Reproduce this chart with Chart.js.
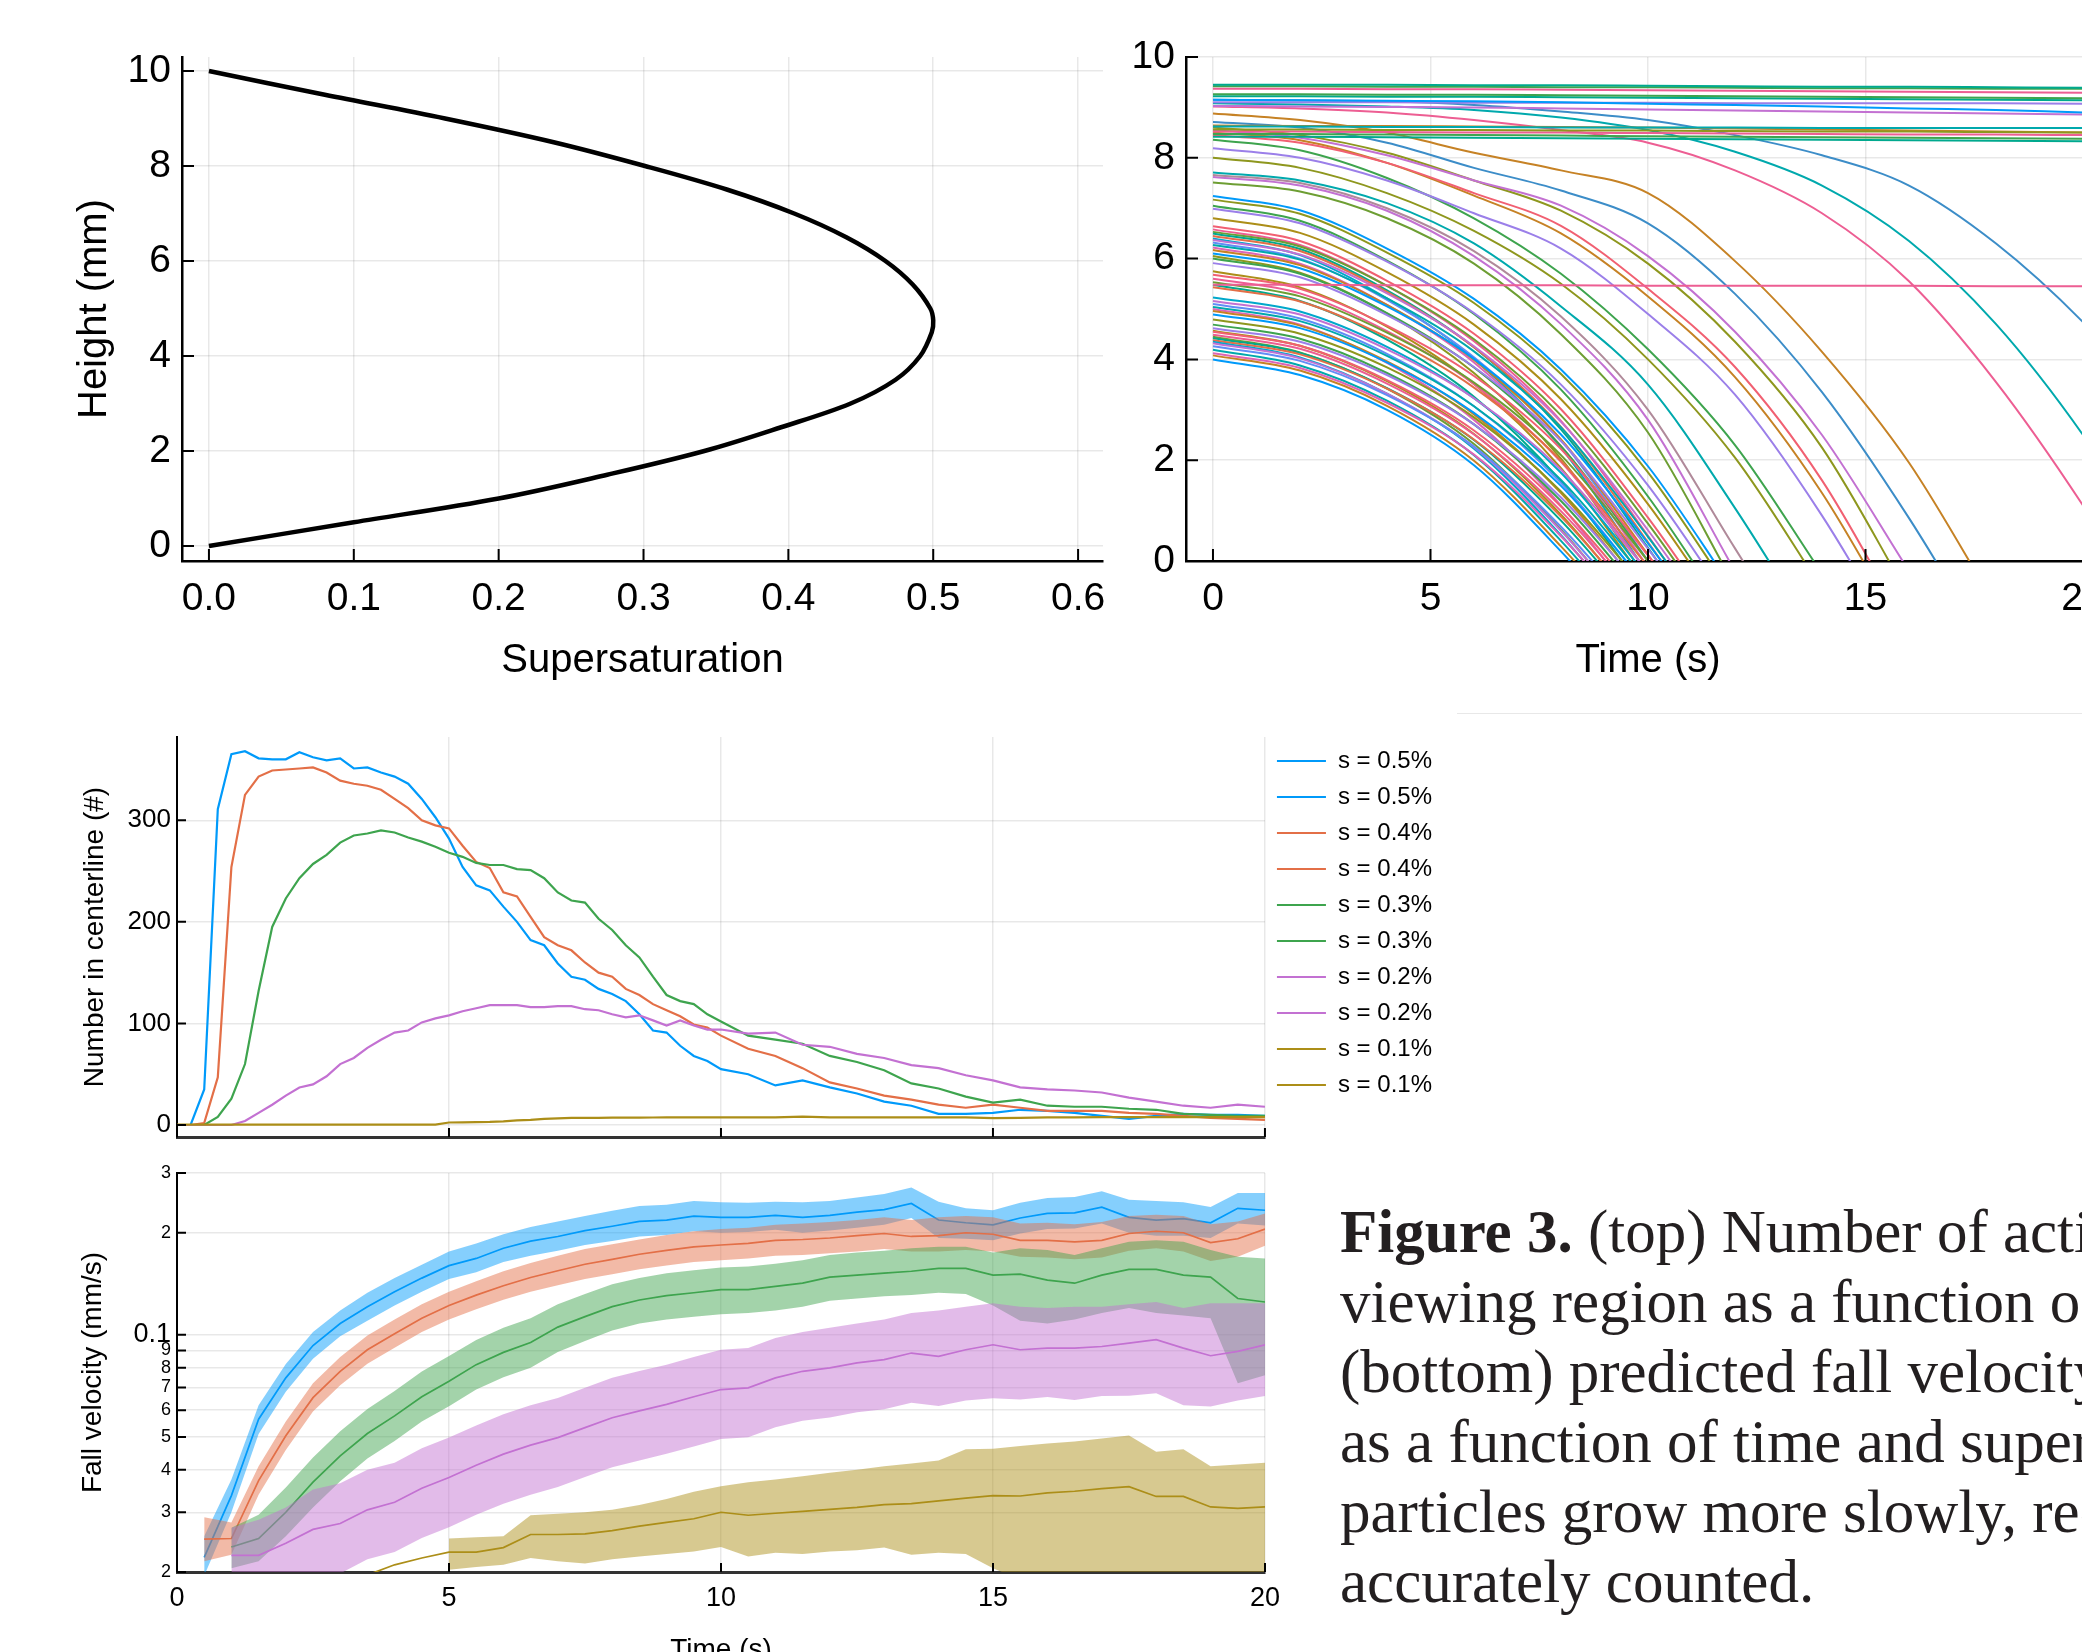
<!DOCTYPE html>
<html>
<head>
<meta charset="utf-8">
<script src="https://cdn.jsdelivr.net/npm/chart.js@4.4.1/dist/chart.umd.min.js"></script>
<style>
  html, body { margin: 0; padding: 0; width: 2082px; height: 1652px; overflow: hidden; background: #fff; }
  canvas { position: absolute; }
  #caption { position: absolute; left: 1340px; top: 1197px; font-family: "Liberation Serif", serif; font-size: 61px; line-height: 70px; color: #231f20; white-space: nowrap; }
  #rule { position: absolute; left: 1457px; top: 713px; width: 625px; height: 1px; background: #e8e8e8; }
</style>
</head>
<body>
<canvas id="satChart" width="1110" height="700" style="left:0;top:0"></canvas>
<canvas id="fallChart" width="1000" height="700" style="left:1110px;top:0"></canvas>
<canvas id="countChart" width="1442" height="440" style="left:0;top:700px"></canvas>
<canvas id="velChart" width="1280" height="540" style="left:0;top:1140px"></canvas>
<div id="rule"></div>
<div id="caption"><b>Figure 3.</b> (top) Number of activated particles in the<br>viewing region as a function of time.<br>(bottom) predicted fall velocity of particles<br>as a function of time and supersaturation. Low<br>particles grow more slowly, reducing the rate<br>accurately counted.</div>

<script>
// ---- supersaturation profile (top left)
var satHeight = [0, 0.5, 1, 1.5, 2, 2.5, 3, 3.5, 4, 4.5, 4.75, 5, 5.5, 6, 6.5, 7, 7.5, 8, 8.5, 9, 9.5, 10];
var satValue = [0, 0.10, 0.20, 0.275, 0.342, 0.395, 0.443, 0.474, 0.491, 0.499, 0.500, 0.498, 0.486, 0.467, 0.440, 0.404, 0.358, 0.301, 0.238, 0.163, 0.08, 0];
var satTicks = [0, 0.1, 0.2, 0.3, 0.4, 0.5, 0.6];
var heightTicks = [0, 2, 4, 6, 8, 10];

// ---- particle trajectories (top right), heights at trajTime
var trajTime = [0, 2, 4, 6, 8, 10, 12, 14, 16, 18, 20, 22];
var flatTraj = [
  [9.45, 9.45, 9.45, 9.44, 9.44, 9.43, 9.42, 9.41, 9.41, 9.40, 9.39, 9.39],
  [9.42, 9.42, 9.41, 9.41, 9.40, 9.40, 9.39, 9.38, 9.38, 9.37, 9.37, 9.36],
  [9.37, 9.37, 9.36, 9.36, 9.35, 9.34, 9.33, 9.32, 9.31, 9.30, 9.29, 9.28],
  [9.26, 9.26, 9.25, 9.25, 9.24, 9.23, 9.22, 9.21, 9.20, 9.19, 9.18, 9.17],
  [9.22, 9.22, 9.21, 9.21, 9.20, 9.19, 9.18, 9.17, 9.16, 9.15, 9.14, 9.13],
  [9.15, 9.14, 9.13, 9.12, 9.10, 9.07, 9.05, 9.02, 8.98, 8.95, 8.90, 8.86],
  [9.10, 9.10, 9.10, 9.09, 9.09, 9.09, 9.08, 9.08, 9.08, 9.08, 9.07, 9.07],
  [9.03, 9.02, 9.01, 9.00, 8.98, 8.96, 8.94, 8.92, 8.90, 8.88, 8.86, 8.84],
  [8.62, 8.62, 8.61, 8.61, 8.60, 8.60, 8.60, 8.59, 8.59, 8.59, 8.59, 8.58],
  [8.56, 8.56, 8.55, 8.55, 8.54, 8.54, 8.53, 8.52, 8.52, 8.51, 8.50, 8.50],
  [8.52, 8.52, 8.51, 8.50, 8.50, 8.49, 8.48, 8.47, 8.46, 8.46, 8.45, 8.44],
  [8.47, 8.47, 8.46, 8.45, 8.44, 8.43, 8.42, 8.41, 8.40, 8.39, 8.38, 8.37],
  [8.42, 8.42, 8.41, 8.40, 8.39, 8.38, 8.37, 8.36, 8.35, 8.34, 8.33, 8.32],
  [8.64, 8.63, 8.63, 8.62, 8.61, 8.60, 8.58, 8.56, 8.54, 8.52, 8.50, 8.48],
  [5.48, 5.48, 5.47, 5.47, 5.47, 5.46, 5.46, 5.46, 5.46, 5.45, 5.45, 5.45]
];
var slowTraj = [
  [9.15, 9.14, 9.12, 9.05, 8.92, 8.75, 8.45, 8.05, 7.45, 6.30, 4.74, 2.80],
  [9.08, 9.06, 9.02, 8.95, 8.80, 8.55, 8.12, 7.45, 6.35, 4.70, 2.50, -0.2],
  [9.02, 8.98, 8.90, 8.75, 8.55, 8.30, 7.75, 6.90, 5.55, 3.55, 1.10, -1.7],
  [8.88, 8.75, 8.50, 8.10, 7.75, 7.30, 5.95, 4.15, 1.95, -0.9],
  [8.71, 8.60, 8.30, 7.80, 7.35, 6.70, 5.30, 3.35, 0.85, -2.0],
  [8.55, 8.40, 8.05, 7.55, 7.05, 6.05, 4.55, 2.50, -0.2],
  [8.60, 8.45, 8.10, 7.55, 6.95, 5.90, 4.35, 2.25, -0.7],
  [8.45, 8.30, 7.90, 7.30, 6.65, 5.40, 3.85, 1.60, -1.4],
  [8.50, 8.35, 7.90, 7.25, 6.50, 5.25, 3.65, 1.35, -1.6],
  [8.19, 8.00, 7.55, 6.90, 6.20, 4.90, 3.30, 0.90, -2.0],
  [8.36, 8.15, 7.60, 6.80, 5.70, 4.20, 2.30, -0.25],
  [8.00, 7.80, 7.30, 6.55, 5.50, 4.00, 2.05, -0.55],
  [7.71, 7.55, 7.10, 6.30, 5.05, 3.50, 1.05, -1.7],
  [7.66, 7.50, 7.00, 6.15, 4.85, 3.00, 0.25, -2.5],
  [7.62, 7.45, 6.95, 6.05, 4.70, 2.80, -0.2],
  [7.51, 7.33, 6.80, 5.90, 4.50, 2.55, -0.5]
];
var bundleTraj = [
  [4.00, 3.69, 3.00, 1.90, 0.19, -1.76],
  [4.08, 3.78, 3.08, 1.99, 0.29, -1.67],
  [4.12, 3.83, 3.14, 2.11, 0.49, -1.45],
  [4.19, 3.88, 3.18, 2.10, 0.40, -1.60],
  [4.26, 3.97, 3.29, 2.27, 0.68, -1.28],
  [4.32, 4.02, 3.32, 2.26, 0.60, -1.41],
  [4.35, 4.04, 3.32, 2.23, 0.51, -1.53],
  [4.38, 4.10, 3.42, 2.41, 0.88, -1.09],
  [4.42, 4.13, 3.43, 2.40, 0.80, -1.19],
  [4.45, 4.14, 3.42, 2.32, 0.62, -1.45],
  [4.49, 4.21, 3.52, 2.51, 0.99, -0.99],
  [4.55, 4.27, 3.59, 2.59, 1.08, -0.90],
  [4.57, 4.27, 3.57, 2.52, 0.92, -1.13],
  [4.62, 4.35, 3.69, 2.71, 1.26, -0.69],
  [4.69, 4.41, 3.73, 2.71, 1.19, -0.82],
  [4.79, 4.51, 3.84, 2.85, 1.38, -0.61],
  [4.89, 4.62, 3.94, 2.94, 1.49, -0.52],
  [4.96, 4.67, 3.96, 2.91, 1.35, -0.74],
  [5.00, 4.69, 3.93, 2.80, 1.10, -1.11],
  [5.04, 4.76, 4.07, 3.07, 1.61, -0.42],
  [5.10, 4.81, 4.11, 3.07, 1.55, -0.54],
  [5.16, 4.89, 4.20, 3.23, 1.81, -0.21],
  [5.23, 4.95, 4.25, 3.23, 1.75, -0.32],
  [5.43, 5.15, 4.44, 3.44, 1.99, -0.11],
  [5.48, 5.16, 4.39, 3.26, 1.58, -0.70],
  [5.53, 5.25, 4.53, 3.54, 2.10, 0.00, -2.21],
  [5.60, 5.31, 4.56, 3.51, 1.97, -0.22],
  [5.68, 5.40, 4.67, 3.67, 2.22, 0.11, -2.14],
  [5.75, 5.43, 4.65, 3.51, 1.84, -0.48],
  [5.91, 5.63, 4.88, 3.85, 2.38, 0.24, -2.07],
  [6.00, 5.70, 4.92, 3.84, 2.28, 0.00, -2.40],
  [6.05, 5.72, 4.91, 3.73, 2.03, -0.38],
  [6.10, 5.81, 5.05, 4.01, 2.51, 0.35, -2.01],
  [6.17, 5.87, 5.08, 3.99, 2.41, 0.12, -2.32],
  [6.22, 5.90, 5.08, 3.94, 2.28, -0.12],
  [6.27, 5.98, 5.21, 4.16, 2.65, 0.48, -1.93],
  [6.32, 6.00, 5.18, 4.04, 2.40, 0.00, -2.53],
  [6.37, 6.08, 5.31, 4.26, 2.76, 0.61, -1.82],
  [6.40, 6.07, 5.21, 4.01, 2.25, -0.26],
  [6.45, 6.15, 5.34, 4.24, 2.66, 0.37, -2.13],
  [6.50, 6.19, 5.37, 4.24, 2.61, 0.26, -2.28],
  [6.53, 6.24, 5.46, 4.40, 2.89, 0.74, -1.72],
  [6.58, 6.27, 5.46, 4.36, 2.78, 0.50, -2.03],
  [6.64, 6.35, 5.56, 4.51, 3.01, 0.86, -1.61],
  [6.80, 6.51, 5.73, 4.69, 3.21, 1.13, -1.37],
  [6.99, 6.70, 5.94, 4.92, 3.50, 1.50, -0.99],
  [7.05, 6.75, 5.96, 4.90, 3.40, 1.28, -1.28],
  [7.17, 6.89, 6.12, 5.12, 3.71, 1.76, -0.76],
  [7.24, 6.96, 6.20, 5.20, 3.80, 1.88, -0.62]
];
var trajXTicks = [0, 5, 10, 15, 20];

// ---- number in centerline (bottom, upper panel)
var countTime = [0, 0.25, 0.5, 0.75, 1, 1.25, 1.5, 1.75, 2, 2.25, 2.5, 2.75, 3, 3.25, 3.5, 3.75, 4, 4.25, 4.5, 4.75,
  5, 5.25, 5.5, 5.75, 6, 6.25, 6.5, 6.75, 7, 7.25, 7.5, 7.75, 8, 8.25, 8.5, 8.75, 9, 9.25, 9.5, 9.75, 10,
  10.5, 11, 11.5, 12, 12.5, 13, 13.5, 14, 14.5, 15, 15.5, 16, 16.5, 17, 17.5, 18, 18.5, 19, 19.5, 20];
var count05 = [0, 0, 35, 311, 365, 368, 361, 360, 360, 367, 362, 359, 361, 351, 352, 347, 343, 336, 321, 303,
  282, 254, 236, 231, 215, 200, 182, 177, 159, 146, 143, 134, 129, 122, 109, 93, 91, 78, 68, 63, 55,
  50, 39, 44, 37, 31, 23, 19, 11, 11, 12, 15, 14, 12, 9, 6, 9, 11, 10, 10, 9];
var count04 = [0, 0, 2, 47, 254, 325, 343, 349, 350, 351, 352, 347, 339, 336, 334, 330, 321, 312, 300, 295,
  292, 275, 259, 253, 229, 225, 205, 185, 177, 172, 160, 150, 146, 134, 128, 119, 113, 107, 99, 96, 88,
  75, 68, 56, 42, 36, 29, 25, 20, 17, 20, 17, 14, 14, 14, 12, 11, 9, 7, 6, 5];
var count03 = [0, 0, 0, 8, 26, 60, 132, 195, 223, 243, 257, 266, 278, 285, 287, 290, 288, 283, 279, 274,
  268, 264, 258, 256, 256, 252, 251, 243, 229, 221, 219, 203, 192, 177, 165, 146, 128, 122, 119, 109, 102,
  88, 84, 80, 68, 62, 54, 41, 36, 28, 22, 25, 19, 18, 18, 16, 15, 11, 10, 9, 9];
var count02 = [0, 0, 0, 0, 0, 4, 12, 20, 29, 37, 40, 48, 60, 66, 76, 84, 91, 93, 101, 105,
  108, 112, 115, 118, 118, 118, 116, 116, 117, 117, 114, 113, 109, 106, 108, 103, 98, 103, 98, 94, 94,
  90, 91, 79, 77, 70, 66, 59, 56, 49, 44, 37, 35, 34, 32, 27, 23, 19, 17, 20, 18];
var count01 = [0.3, 0.3, 0.3, 0.3, 0.3, 0.3, 0.3, 0.3, 0.3, 0.3, 0.3, 0.3, 0.3, 0.3, 0.3, 0.3, 0.3, 0.3, 0.3, 0.3,
  2.5, 2.6, 2.8, 3, 3.5, 4.5, 5, 6, 6.5, 7, 7, 7, 7.2, 7.3, 7.3, 7.4, 7.5, 7.5, 7.5, 7.5, 7.6,
  7.6, 7.6, 8.2, 7.6, 7.6, 7.6, 7.6, 7.6, 7.6, 6.8, 7.0, 7.6, 7.6, 7.7, 7.7, 7.7, 7.7, 7.7, 7.7, 7.7];
var countYTicks = [0, 100, 200, 300];
var countLegend = ['s = 0.5%', 's = 0.5%', 's = 0.4%', 's = 0.4%', 's = 0.3%', 's = 0.3%', 's = 0.2%', 's = 0.2%', 's = 0.1%', 's = 0.1%'];

// ---- fall velocity in mm/s (bottom, lower panel): mean line and band edges
var velTime = [0, 0.5, 1, 1.5, 2, 2.5, 3, 3.5, 4, 4.5, 5, 5.5, 6, 6.5, 7, 7.5, 8, 8.5, 9, 9.5, 10,
  10.5, 11, 11.5, 12, 12.5, 13, 13.5, 14, 14.5, 15, 15.5, 16, 16.5, 17, 17.5, 18, 18.5, 19, 19.5, 20];
var vel05 = [null, 0.0221, 0.0336, 0.0564, 0.0747, 0.093, 0.108, 0.121, 0.134, 0.147, 0.160, 0.168, 0.180, 0.189, 0.195, 0.203, 0.209, 0.216, 0.218, 0.224, 0.222,
  0.222, 0.225, 0.222, 0.225, 0.230, 0.234, 0.244, 0.218, 0.214, 0.211, 0.221, 0.228, 0.229, 0.238, 0.222, 0.218, 0.220, 0.214, 0.236, 0.233];
var vel05Hi = [null, 0.0255, 0.0375, 0.062, 0.082, 0.102, 0.118, 0.133, 0.147, 0.161, 0.176, 0.186, 0.198, 0.208, 0.216, 0.224, 0.232, 0.240, 0.242, 0.248, 0.246,
  0.245, 0.247, 0.246, 0.248, 0.254, 0.260, 0.272, 0.247, 0.236, 0.233, 0.245, 0.253, 0.255, 0.265, 0.250, 0.248, 0.246, 0.238, 0.262, 0.262];
var vel05Lo = [null, 0.0195, 0.030, 0.051, 0.068, 0.085, 0.099, 0.110, 0.122, 0.134, 0.146, 0.153, 0.164, 0.171, 0.177, 0.184, 0.189, 0.195, 0.197, 0.202, 0.200,
  0.201, 0.204, 0.200, 0.203, 0.207, 0.211, 0.221, 0.193, 0.192, 0.190, 0.199, 0.205, 0.206, 0.213, 0.200, 0.196, 0.196, 0.193, 0.213, 0.210];
var vel04 = [null, 0.025, 0.0251, 0.0372, 0.0504, 0.0653, 0.0781, 0.0904, 0.1008, 0.112, 0.122, 0.131, 0.1396, 0.1476, 0.1545, 0.1615, 0.167, 0.1728, 0.1775, 0.1816, 0.184,
  0.186, 0.190, 0.191, 0.193, 0.196, 0.199, 0.195, 0.196, 0.200, 0.198, 0.190, 0.190, 0.188, 0.190, 0.199, 0.202, 0.200, 0.187, 0.192, 0.205];
var vel04Hi = [null, 0.029, 0.028, 0.041, 0.0555, 0.072, 0.086, 0.0995, 0.111, 0.123, 0.134, 0.144, 0.154, 0.163, 0.171, 0.179, 0.185, 0.191, 0.197, 0.202, 0.205,
  0.207, 0.211, 0.213, 0.215, 0.218, 0.222, 0.218, 0.222, 0.224, 0.222, 0.213, 0.214, 0.212, 0.215, 0.224, 0.226, 0.224, 0.212, 0.216, 0.228];
var vel04Lo = [null, 0.0215, 0.0225, 0.0338, 0.0458, 0.0594, 0.071, 0.0822, 0.0916, 0.102, 0.111, 0.119, 0.127, 0.134, 0.140, 0.146, 0.151, 0.156, 0.160, 0.164, 0.166,
  0.168, 0.171, 0.172, 0.174, 0.176, 0.179, 0.176, 0.176, 0.178, 0.176, 0.170, 0.169, 0.167, 0.169, 0.177, 0.180, 0.176, 0.165, 0.170, 0.183];
var vel03 = [null, null, 0.0237, 0.0251, 0.030, 0.0368, 0.044, 0.0512, 0.0577, 0.0657, 0.073, 0.0817, 0.0888, 0.095, 0.1054, 0.1132, 0.1211, 0.1267, 0.1305, 0.1331, 0.136,
  0.136, 0.139, 0.142, 0.148, 0.150, 0.152, 0.154, 0.157, 0.157, 0.150, 0.151, 0.145, 0.142, 0.150, 0.156, 0.156, 0.150, 0.148, 0.128, 0.125];
var vel03Hi = [null, null, 0.027, 0.0295, 0.0355, 0.0435, 0.052, 0.0605, 0.0683, 0.078, 0.0866, 0.0965, 0.105, 0.112, 0.123, 0.132, 0.141, 0.147, 0.152, 0.155, 0.158,
  0.159, 0.162, 0.166, 0.172, 0.175, 0.177, 0.180, 0.182, 0.182, 0.175, 0.180, 0.178, 0.172, 0.180, 0.188, 0.190, 0.188, 0.178, 0.170, 0.168];
var vel03Lo = [null, null, 0.0205, 0.0215, 0.0255, 0.031, 0.037, 0.0432, 0.0487, 0.0555, 0.0616, 0.069, 0.075, 0.080, 0.089, 0.096, 0.103, 0.108, 0.111, 0.113, 0.115,
  0.116, 0.118, 0.121, 0.126, 0.128, 0.130, 0.131, 0.133, 0.132, 0.122, 0.110, 0.108, 0.111, 0.116, 0.120, 0.116, 0.114, 0.112, 0.072, 0.076];
var vel02 = [null, null, 0.0224, 0.0224, 0.0243, 0.0267, 0.0278, 0.0305, 0.0321, 0.0353, 0.038, 0.0413, 0.0445, 0.0473, 0.0498, 0.0533, 0.057, 0.0597, 0.0624, 0.0657, 0.069,
  0.0698, 0.0747, 0.0781, 0.0799, 0.0827, 0.0845, 0.0884, 0.0864, 0.0904, 0.0935, 0.0904, 0.0914, 0.0914, 0.0924, 0.0945, 0.0968, 0.0914, 0.0868, 0.0894, 0.0935];
var vel02Hi = [null, null, 0.027, 0.0285, 0.031, 0.035, 0.0365, 0.040, 0.042, 0.0463, 0.0498, 0.0541, 0.0583, 0.062, 0.0652, 0.0698, 0.0747, 0.0782, 0.0817, 0.0861, 0.0904,
  0.0915, 0.0979, 0.102, 0.105, 0.108, 0.111, 0.116, 0.118, 0.121, 0.124, 0.121, 0.120, 0.121, 0.121, 0.123, 0.125, 0.120, 0.124, 0.124, 0.124];
var vel02Lo = [null, null, 0.0185, 0.018, 0.018, 0.019, 0.0198, 0.0218, 0.0229, 0.0252, 0.0271, 0.0295, 0.0318, 0.0338, 0.0356, 0.0381, 0.0407, 0.0426, 0.0446, 0.0469, 0.0493,
  0.0499, 0.0534, 0.0558, 0.0571, 0.0591, 0.0604, 0.0631, 0.0617, 0.064, 0.065, 0.0645, 0.0656, 0.0643, 0.066, 0.0661, 0.0673, 0.062, 0.0615, 0.064, 0.066];
var vel01 = [null, null, null, null, null, null, null, 0.0196, 0.0210, 0.0220, 0.0229, 0.0229, 0.0236, 0.0258, 0.0258, 0.0259, 0.0265, 0.0273, 0.028, 0.0287, 0.030,
  0.0294, 0.0298, 0.0302, 0.0306, 0.031, 0.0316, 0.0318, 0.0324, 0.033, 0.0336, 0.0335, 0.0342, 0.0346, 0.0352, 0.0357, 0.0334, 0.0334, 0.0311, 0.0308, 0.0311];
var vel01Hi = [null, null, null, null, null, null, null, null, null, null, 0.0251, 0.0253, 0.0255, 0.0294, 0.0297, 0.030, 0.0305, 0.0315, 0.0328, 0.0345, 0.0358,
  0.0368, 0.0375, 0.0383, 0.0392, 0.040, 0.041, 0.0418, 0.0426, 0.046, 0.0462, 0.047, 0.0478, 0.0485, 0.0495, 0.0505, 0.0452, 0.046, 0.041, 0.0415, 0.042];
var vel01Lo = [null, null, null, null, null, null, null, null, null, null, 0.0203, 0.0207, 0.021, 0.022, 0.0215, 0.0212, 0.0218, 0.0222, 0.0226, 0.023, 0.0237,
  0.0222, 0.0228, 0.0226, 0.023, 0.0232, 0.0236, 0.0225, 0.0228, 0.0226, 0.0205, 0.019, 0.019, 0.019, 0.019, 0.019, 0.019, 0.019, 0.019, 0.019, 0.019];
var velYTicks = [0.02, 0.03, 0.04, 0.05, 0.06, 0.07, 0.08, 0.09, 0.1, 0.2, 0.3];
var velYLabels = ['2', '3', '4', '5', '6', '7', '8', '9', '0.1', '2', '3'];

// ---- styling
var palette = ['#009AFA', '#E36F47', '#3EA44E', '#C371D2', '#AC8E18', '#00A9AD', '#ED5E93', '#C68225',
  '#00A98E', '#8E971E', '#00A8CB', '#9B7FE9', '#618DF6', '#F16072', '#DC65B7', '#6D9E33'];
var flatColors = ['#00A98E', '#3EA44E', '#ED5E93', '#3EA44E', '#00A98E', '#009AFA', '#9B7FE9', '#C371D2',
  '#00A9AD', '#8E971E', '#ED5E93', '#3EA44E', '#00A98E', '#C68225', '#ED5E93'];
var slowColors = ['#3C8DC8', '#00A9AD', '#ED5E93', '#C68225', '#3C8DC8', '#C371D2', '#8E971E', '#F16072',
  '#C68225', '#9B7FE9', '#3EA44E', '#8E971E', '#00A9AD', '#B08A9A', '#C371D2', '#6D9E33'];
var seriesColors = ['#009AFA', '#E36F47', '#3EA44E', '#C371D2', '#AC8E18'];
var FONT = 'Liberation Sans';
var GRID = 'rgba(0,0,0,0.09)';

Chart.defaults.font.family = FONT;
Chart.defaults.color = '#000';

function alpha(hex, a) {
  var n = parseInt(hex.slice(1), 16);
  return 'rgba(' + (n >> 16) + ',' + ((n >> 8) & 255) + ',' + (n & 255) + ',' + a + ')';
}

// fixes the axis box size so the plot area lands where the figure has it
function fixSize(size) {
  return function (scale) {
    if (scale.isHorizontal()) scale.height = size; else scale.width = size;
    scale.paddingTop = 0; scale.paddingBottom = 0; scale.paddingLeft = 0; scale.paddingRight = 0;
  };
}
function useTicks(list) {
  return function (scale) { scale.ticks = list.map(function (v) { return { value: v }; }); };
}
function points(xs, ys) {
  var out = [];
  for (var i = 0; i < ys.length; i++) if (ys[i] !== null) out.push({ x: xs[i], y: ys[i] });
  return out;
}

// tick marks drawn on the inside of the plot frame
var innerTicks = {
  id: 'innerTicks',
  afterDraw: function (chart, args, opts) {
    var ctx = chart.ctx, a = chart.chartArea, len = opts.length || 12;
    var xs = chart.scales.x, ys = chart.scales.y;
    ctx.save();
    ctx.strokeStyle = '#000';
    ctx.lineWidth = opts.width || 2;
    ctx.beginPath();
    xs.ticks.forEach(function (t) {
      var p = xs.getPixelForValue(t.value);
      ctx.moveTo(p, a.bottom); ctx.lineTo(p, a.bottom - len);
    });
    ys.ticks.forEach(function (t) {
      var p = ys.getPixelForValue(t.value);
      ctx.moveTo(a.left, p); ctx.lineTo(a.left + len, p);
    });
    ctx.stroke();
    ctx.restore();
  }
};

var noPlugins = { legend: { display: false }, tooltip: { enabled: false } };

// ---- top left: supersaturation vs height
new Chart(document.getElementById('satChart'), {
  type: 'line',
  data: {
    datasets: [{
      data: points(satValue, satHeight),
      borderColor: '#000', borderWidth: 4.5, pointRadius: 0, tension: 0.35, fill: false
    }]
  },
  options: {
    responsive: false, animation: false, devicePixelRatio: 1,
    layout: { padding: { top: 57, right: 7, left: 0, bottom: 0 } },
    plugins: Object.assign({ innerTicks: { length: 12, width: 2 } }, noPlugins),
    scales: {
      x: {
        type: 'linear', min: -0.0186, max: 0.6172,
        afterBuildTicks: useTicks(satTicks), afterFit: fixSize(139),
        grid: { color: GRID, lineWidth: 1.5, drawTicks: false },
        border: { color: '#000', width: 2.5 },
        ticks: { padding: 15, font: { size: 39 }, maxRotation: 0, autoSkip: false, callback: function (v) { return v.toFixed(1); } },
        title: { display: true, text: 'Supersaturation', font: { size: 40 }, padding: { top: 0, bottom: 15 } }
      },
      y: {
        type: 'linear', min: -0.316, max: 10.295,
        afterBuildTicks: useTicks(heightTicks), afterFit: fixSize(182),
        grid: { color: GRID, lineWidth: 1.5, drawTicks: false },
        border: { color: '#000', width: 2.5 },
        ticks: { padding: 11, font: { size: 39 }, autoSkip: false },
        title: { display: true, text: 'Height (mm)', font: { size: 40 }, padding: { top: 71, bottom: 0 } }
      }
    }
  },
  plugins: [innerTicks]
});

// ---- top right: particle heights over time
var trajSets = [];
flatTraj.forEach(function (h, i) { trajSets.push({ h: h, c: flatColors[i] }); });
slowTraj.forEach(function (h, i) { trajSets.push({ h: h, c: slowColors[i] }); });
bundleTraj.forEach(function (h, i) { trajSets.push({ h: h, c: palette[(i * 7) % palette.length] }); });
new Chart(document.getElementById('fallChart'), {
  type: 'line',
  data: {
    datasets: trajSets.map(function (t) {
      return {
        data: points(trajTime, t.h),
        borderColor: t.c, borderWidth: 2, pointRadius: 0,
        cubicInterpolationMode: 'monotone', fill: false
      };
    })
  },
  options: {
    responsive: false, animation: false, devicePixelRatio: 1,
    layout: { padding: { top: 57, right: 0, left: 0, bottom: 0 } },
    plugins: Object.assign({ innerTicks: { length: 12, width: 2 } }, noPlugins),
    scales: {
      x: {
        type: 'linear', min: -0.62, max: 20.62,
        afterBuildTicks: useTicks(trajXTicks), afterFit: fixSize(139),
        grid: { color: GRID, lineWidth: 1.5, drawTicks: false },
        border: { color: '#000', width: 2.5 },
        ticks: { padding: 15, font: { size: 39 }, maxRotation: 0, autoSkip: false },
        title: { display: true, text: 'Time (s)', font: { size: 40 }, padding: { top: 0, bottom: 15 } }
      },
      y: {
        type: 'linear', min: 0, max: 10,
        afterBuildTicks: useTicks(heightTicks), afterFit: fixSize(76),
        grid: { color: GRID, lineWidth: 1.5, drawTicks: false },
        border: { color: '#000', width: 2.5 },
        ticks: { padding: 11, font: { size: 39 }, autoSkip: false }
      }
    }
  },
  plugins: [innerTicks]
});

// ---- bottom upper: number in centerline
var countSeries = [count05, count04, count03, count02, count01];
new Chart(document.getElementById('countChart'), {
  type: 'line',
  data: {
    datasets: countSeries.map(function (s, i) {
      return {
        data: points(countTime, s), borderColor: seriesColors[i], borderWidth: 2.2,
        pointRadius: 0, fill: false, order: 50 - i * 10
      };
    })
  },
  options: {
    responsive: false, animation: false, devicePixelRatio: 1,
    layout: { padding: { top: 37, right: 0, left: 0, bottom: 0 } },
    plugins: {
      tooltip: { enabled: false },
      innerTicks: { length: 9, width: 2 },
      legend: {
        display: true, position: 'right', align: 'start',
        labels: {
          usePointStyle: true, pointStyle: 'line', pointStyleWidth: 49, padding: 12,
          color: '#000', font: { size: 24 },
          generateLabels: function () {
            return countLegend.map(function (text, i) {
              var c = seriesColors[Math.floor(i / 2)];
              return { text: text, strokeStyle: c, fillStyle: c, lineWidth: 2, pointStyle: 'line', hidden: false, fontColor: '#000' };
            });
          }
        }
      }
    },
    scales: {
      x: {
        type: 'linear', min: 0, max: 20,
        afterBuildTicks: useTicks(trajXTicks), afterFit: fixSize(3),
        grid: { color: GRID, lineWidth: 1.5, drawTicks: false },
        border: { color: '#333', width: 3 },
        ticks: { display: false }
      },
      y: {
        type: 'linear', min: -11.8, max: 382,
        afterBuildTicks: useTicks(countYTicks), afterFit: fixSize(177),
        grid: { color: GRID, lineWidth: 1.5, drawTicks: false },
        border: { color: '#000', width: 2 },
        ticks: { padding: 6, font: { size: 26 }, autoSkip: false },
        title: { display: true, text: 'Number in centerline (#)', font: { size: 28 }, padding: { top: 78, bottom: 0 } }
      }
    }
  },
  plugins: [innerTicks]
});

// ---- bottom lower: fall velocity with spread bands
var velSets = [[vel05, vel05Hi, vel05Lo], [vel04, vel04Hi, vel04Lo], [vel03, vel03Hi, vel03Lo], [vel02, vel02Hi, vel02Lo], [vel01, vel01Hi, vel01Lo]];
var velDatasets = [];
velSets.forEach(function (set, i) {
  var c = seriesColors[i], ord = 50 - i * 10;
  velDatasets.push({ data: points(velTime, set[0]), borderColor: c, borderWidth: 1.7, pointRadius: 0, fill: false, order: ord });
  velDatasets.push({ data: points(velTime, set[1]), borderWidth: 0, borderColor: 'rgba(0,0,0,0)', backgroundColor: alpha(c, 0.48), pointRadius: 0, fill: '+1', order: ord });
  velDatasets.push({ data: points(velTime, set[2]), borderWidth: 0, borderColor: 'rgba(0,0,0,0)', pointRadius: 0, fill: false, order: ord });
});
new Chart(document.getElementById('velChart'), {
  type: 'line',
  data: { datasets: velDatasets },
  options: {
    responsive: false, animation: false, devicePixelRatio: 1,
    layout: { padding: { top: 33, right: 15, left: 0, bottom: 0 } },
    plugins: Object.assign({ innerTicks: { length: 9, width: 2 } }, noPlugins),
    scales: {
      x: {
        type: 'linear', min: 0, max: 20,
        afterBuildTicks: useTicks(trajXTicks), afterFit: fixSize(108),
        grid: { color: GRID, lineWidth: 1.5, drawTicks: false },
        border: { color: '#333', width: 3 },
        ticks: { padding: 10, font: { size: 27 }, maxRotation: 0, autoSkip: false },
        title: { display: true, text: 'Time (s)', font: { size: 28 }, padding: { top: 0, bottom: 13 } }
      },
      y: {
        type: 'logarithmic', min: 0.02, max: 0.3,
        afterBuildTicks: useTicks(velYTicks), afterFit: fixSize(177),
        grid: { color: GRID, lineWidth: 1.5, drawTicks: false },
        border: { color: '#000', width: 2 },
        ticks: {
          padding: 6, autoSkip: false,
          font: function (ctx) { return { size: velYLabels[ctx.index] === '0.1' ? 27 : 18 }; },
          callback: function (v, i) { return velYLabels[i]; }
        },
        title: { display: true, text: 'Fall velocity (mm/s)', font: { size: 28 }, padding: { top: 76, bottom: 0 } }
      }
    }
  },
  plugins: [innerTicks]
});
</script>
</body>
</html>
